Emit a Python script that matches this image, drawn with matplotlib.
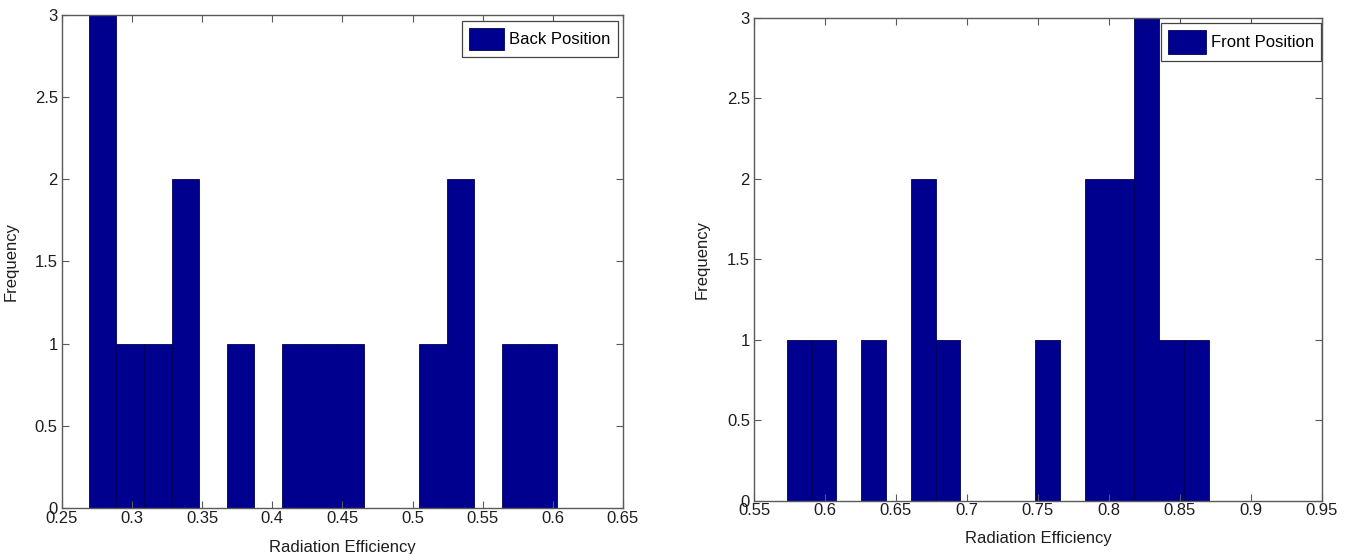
import numpy as np
import matplotlib
matplotlib.use("Agg")
import matplotlib.pyplot as plt

# Histogram counts (17 equal-width bins spanning min..max of each data set)
back_range = (0.2692, 0.6029)
back_counts = [3, 1, 1, 2, 0, 1, 0, 1, 1, 1, 0, 0, 1, 2, 0, 1, 1]

front_range = (0.5730, 0.8704)
front_counts = [1, 1, 0, 1, 0, 2, 1, 0, 0, 0, 1, 0, 2, 2, 3, 1, 1]

back_xticks = [0.25, 0.3, 0.35, 0.4, 0.45, 0.5, 0.55, 0.6, 0.65]
back_xlabels = ["0.25", "0.3", "0.35", "0.4", "0.45", "0.5", "0.55", "0.6", "0.65"]
front_xticks = [0.55, 0.6, 0.65, 0.7, 0.75, 0.8, 0.85, 0.9, 0.95]
front_xlabels = ["0.55", "0.6", "0.65", "0.7", "0.75", "0.8", "0.85", "0.9", "0.95"]
yticks = [0, 0.5, 1, 1.5, 2, 2.5, 3]
ylabels = ["0", "0.5", "1", "1.5", "2", "2.5", "3"]

plt.rcParams["font.family"] = ["Liberation Sans", "DejaVu Sans"]
plt.rcParams["font.size"] = 12

BAR_COLOR = (0.0, 0.0, 0.5625)
AXIS_COLOR = "#5a5a5a"
TEXT_COLOR = "#1e1e1e"

fig = plt.figure(figsize=(13.54, 5.54), dpi=100)
ax_back = fig.add_axes([0.0458, 0.0825, 0.4143, 0.8913])
ax_front = fig.add_axes([0.5569, 0.0962, 0.4193, 0.8722])


def draw_hist(ax, rng, counts, xticks, xlabels, label, xlab_y, ylab_x,
              leg_anchor, handle_len, handle_h):
    counts = np.asarray(counts, dtype=float)
    edges = np.linspace(rng[0], rng[1], len(counts) + 1)
    keep = counts > 0
    ax.bar(edges[:-1][keep], counts[keep], width=np.diff(edges)[keep],
           align="edge", color=BAR_COLOR, edgecolor="#000058",
           linewidth=0.6, label=label)
    ax.set_xlim(xticks[0], xticks[-1])
    ax.set_ylim(0, 3)
    ax.set_xticks(xticks)
    ax.set_xticklabels(xlabels)
    ax.set_yticks(yticks)
    ax.set_yticklabels(ylabels)
    ax.tick_params(direction="in", length=5, width=0.8, top=True, right=True,
                   colors=AXIS_COLOR, labelcolor=TEXT_COLOR, labelsize=12)
    ax.tick_params(axis="x", pad=2)
    ax.tick_params(axis="y", pad=3)
    for sp in ax.spines.values():
        sp.set_color(AXIS_COLOR)
        sp.set_linewidth(1.0)
    ax.set_xlabel("Radiation Efficiency", fontsize=12, color=TEXT_COLOR)
    ax.set_ylabel("Frequency", fontsize=12, color=TEXT_COLOR)
    ax.xaxis.set_label_coords(0.5, xlab_y)
    ax.yaxis.set_label_coords(ylab_x, 0.5)
    leg = ax.legend(loc="upper right", bbox_to_anchor=leg_anchor,
                    borderaxespad=0.0, fancybox=False, framealpha=1.0,
                    edgecolor="#444444", handlelength=handle_len,
                    handleheight=handle_h, handletextpad=0.3,
                    borderpad=0.42, fontsize=12)
    leg.get_frame().set_linewidth(0.9)


draw_hist(ax_back, back_range, back_counts, back_xticks, back_xlabels,
          "Back Position", -0.064, -0.078, (0.9906, 0.9868), 2.1, 1.62)
draw_hist(ax_front, front_range, front_counts, front_xticks, front_xlabels,
          "Front Position", -0.062, -0.0775, (0.9982, 0.9892), 2.26, 1.87)

fig.savefig("out.png", dpi=100, facecolor="white")
